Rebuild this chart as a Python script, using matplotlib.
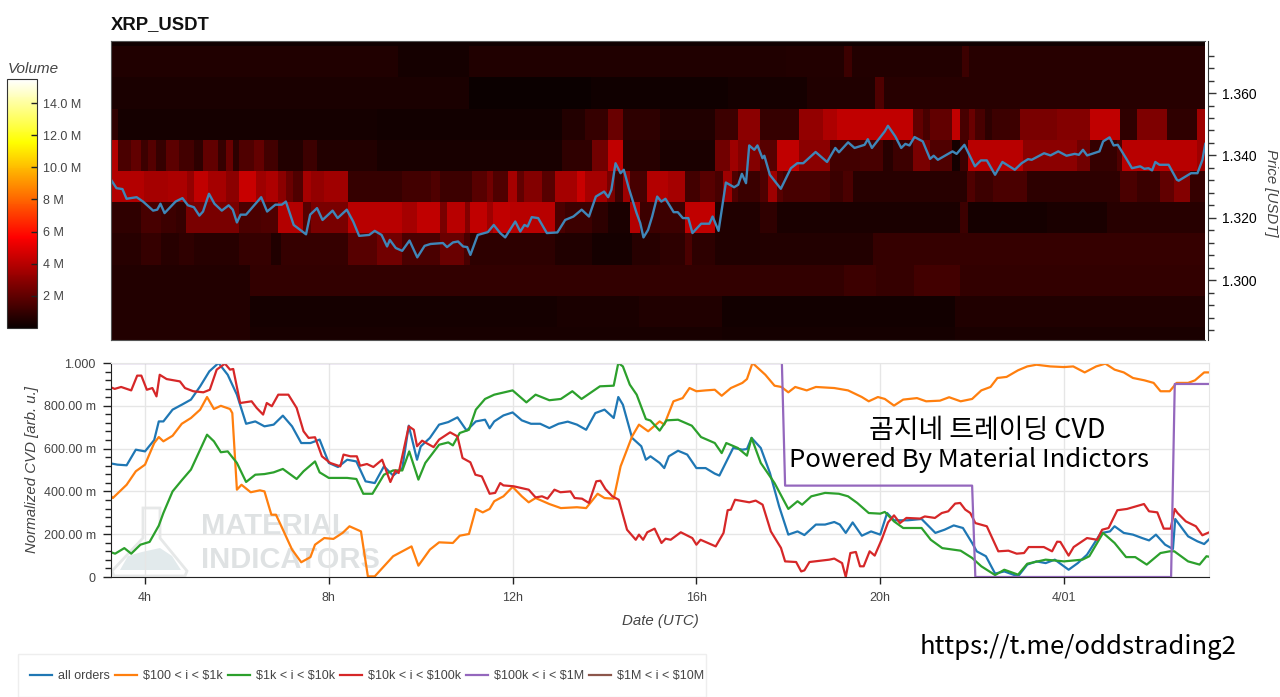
import numpy as np
import matplotlib
matplotlib.use("Agg")
import matplotlib.pyplot as plt
from matplotlib.lines import Line2D
from matplotlib.patches import Polygon, Rectangle

plt.rcParams["font.family"] = ["Liberation Sans", "DejaVu Sans"]

# volume in millions per 0.01 USDT price bin, (hour the level starts, volume)
row_1280 = [(3.26, 0.6), (6.29, 0.35), (16.6, 0.3), (21.7, 0.4)]
row_1290 = [(3.26, 0.6), (6.29, 0.3), (13.0, 0.4), (14.8, 0.5), (16.6, 0.2), (21.7, 0.5)]
row_1300 = [(3.26, 0.6), (6.29, 0.95), (19.27, 1.2), (19.96, 1.0), (20.8, 1.3), (21.8, 0.95)]
row_1310 = [(3.26, 0.7), (3.92, 1.0), (4.35, 0.7), (4.75, 0.9), (5.08, 0.7), (6.06, 1.0), (6.75, 0.5), (6.97, 1.0), (8.43, 1.8), (9.08, 2.4),
            (9.61, 1.5), (10.45, 2.2), (10.96, 1.4), (11.10, 0.8), (12.96, 0.5), (13.76, 0.3), (14.63, 0.7), (15.25, 0.8), (15.80, 1.5),
            (15.94, 0.8), (16.45, 0.5), (17.43, 0.6), (19.91, 1.0)]
row_1320 = [(3.26, 0.9), (3.92, 1.4), (4.35, 1.2), (4.68, 1.0), (4.90, 2.6), (6.06, 1.5), (6.54, 1.6), (6.90, 3.9), (7.45, 1.8), (7.63, 2.6),
            (8.43, 4.0), (9.61, 3.6), (9.94, 4.2), (10.45, 2.6), (10.59, 4.0), (10.99, 2.8), (11.10, 4.2), (11.47, 3.4), (11.61, 4.2), (11.98, 4.0),
            (12.96, 1.5), (13.18, 1.2), (13.76, 0.8), (14.12, 0.4), (14.60, 3.9), (14.82, 1.2), (15.80, 4.2), (16.45, 0.5), (17.43, 0.9), (17.80, 0.4),
            (21.81, 1.2), (21.97, 0.3), (23.70, 0.4), (25.01, 0.7)]
row_1330 = [(3.26, 3.9), (3.99, 3.6), (4.50, 3.7), (4.93, 3.2), (5.08, 4.2), (5.37, 3.6), (5.77, 3.0), (6.06, 4.4), (6.43, 3.4), (6.65, 3.8), (6.90, 3.0),
            (7.08, 2.2), (7.23, 1.6), (7.45, 3.6), (7.63, 3.2), (7.92, 3.5), (8.43, 1.0), (9.61, 1.3), (10.26, 1.6), (10.45, 1.2), (11.14, 1.8), (11.47, 2.4),
            (11.61, 1.6), (11.94, 3.6), (12.12, 2.0), (12.27, 2.8), (12.67, 1.8), (12.96, 3.6), (13.43, 4.4), (13.61, 3.6), (14.09, 2.6), (14.27, 1.2),
            (14.45, 3.4), (14.60, 1.4), (14.96, 3.9), (15.43, 3.6), (15.80, 1.3), (16.12, 1.8), (16.45, 1.4), (16.63, 3.4), (16.82, 1.6), (16.96, 1.1),
            (17.43, 1.6), (17.62, 3.4), (17.80, 1.8), (17.94, 1.4), (18.96, 1.1), (19.25, 1.5), (19.47, 0.7), (21.95, 1.6), (22.13, 1.2), (22.53, 1.5),
            (23.26, 0.8), (25.30, 1.5), (25.66, 1.1), (26.17, 2.0), (26.47, 2.8), (26.83, 1.0)]
row_1340 = [(3.26, 3.9), (3.42, 1.5), (3.70, 2.0), (3.92, 1.2), (4.06, 1.7), (4.24, 1.0), (4.46, 1.9), (4.75, 1.3), (5.08, 0.8), (5.26, 2.0), (5.59, 1.0),
            (5.77, 2.2), (5.92, 0.8), (6.06, 1.6), (6.39, 2.1), (6.61, 1.3), (6.90, 0.6), (7.45, 1.2), (7.77, 0.6), (9.08, 0.35), (13.10, 0.9), (13.76, 2.4),
            (14.12, 4.2), (14.45, 0.7), (15.25, 0.4), (16.45, 2.4), (16.78, 3.4), (16.96, 2.8), (17.43, 1.8), (17.80, 4.2), (18.29, 3.0), (18.96, 1.3),
            (19.62, 1.4), (20.13, 0.7), (20.35, 1.2), (20.78, 2.6), (21.15, 1.6), (21.62, 0.3), (21.81, 1.2), (21.97, 4.0), (23.19, 3.0), (24.35, 2.4),
            (24.65, 1.0), (25.23, 1.6), (25.34, 4.0), (26.97, 3.4)]
row_1350 = [(3.26, 0.9), (3.42, 0.3), (9.08, 0.2), (13.10, 0.6), (13.61, 1.0), (14.12, 2.2), (14.45, 0.8), (15.25, 0.5), (16.45, 1.2), (16.96, 3.0),
            (17.43, 1.0), (18.29, 3.2), (18.82, 3.8), (19.11, 4.2), (20.78, 2.0), (21.0, 1.4), (21.15, 2.0), (21.62, 4.2), (21.81, 1.4), (21.99, 2.2),
            (22.13, 1.4), (22.35, 0.8), (22.50, 1.2), (23.12, 2.6), (23.92, 2.8), (24.65, 4.2), (25.30, 0.9), (25.66, 2.7), (26.32, 0.9), (26.97, 3.4)]
row_1360 = [(3.26, 0.4), (11.09, 0.05), (13.75, 0.15), (16.73, 0.3), (18.47, 0.5), (19.94, 1.6), (20.14, 0.7)]
row_1370 = [(3.26, 0.5), (9.52, 0.3), (11.09, 0.5), (18.0, 0.6), (19.27, 1.2), (19.45, 0.6), (21.85, 1.2), (22.0, 0.7)]
row_1380 = [(3.26, 0.15)]

price = [(3.26, 1.3322), (3.38, 1.3295), (3.51, 1.3292), (3.60, 1.3261), (3.82, 1.3266), (3.96, 1.3252), (4.18, 1.3223), (4.27, 1.3226),
         (4.34, 1.3245), (4.43, 1.3215), (4.67, 1.3252), (4.82, 1.3263), (4.94, 1.3240), (5.07, 1.3234), (5.19, 1.3207), (5.27, 1.3220),
         (5.40, 1.3277), (5.52, 1.3245), (5.68, 1.3223), (5.83, 1.3240), (5.92, 1.3226), (6.01, 1.3185), (6.09, 1.3210), (6.21, 1.3210),
         (6.54, 1.3266), (6.67, 1.3220), (6.85, 1.3242), (6.99, 1.3242), (7.08, 1.3252), (7.25, 1.3177), (7.52, 1.3147), (7.61, 1.3210),
         (7.76, 1.3231), (7.88, 1.3193), (8.10, 1.3223), (8.21, 1.3199), (8.41, 1.3226), (8.55, 1.3188), (8.68, 1.3142), (8.90, 1.3145),
         (9.02, 1.3158), (9.17, 1.3145), (9.29, 1.3108), (9.35, 1.3129), (9.48, 1.3103), (9.62, 1.3094), (9.78, 1.3127), (9.95, 1.3073),
         (10.11, 1.3110), (10.24, 1.3116), (10.51, 1.3119), (10.60, 1.3106), (10.73, 1.3121), (10.84, 1.3124), (10.95, 1.3108), (11.04, 1.3106),
         (11.11, 1.3081), (11.27, 1.3145), (11.49, 1.3154), (11.62, 1.3177), (11.76, 1.3151), (11.87, 1.3137), (12.09, 1.3188), (12.20, 1.3156),
         (12.29, 1.3177), (12.36, 1.3172), (12.45, 1.3202), (12.59, 1.3199), (12.78, 1.3151), (13.01, 1.3153), (13.18, 1.3193), (13.36, 1.3204),
         (13.54, 1.3226), (13.70, 1.3204), (13.85, 1.3268), (14.03, 1.3284), (14.12, 1.3266), (14.19, 1.3290), (14.28, 1.3375), (14.39, 1.3343),
         (14.46, 1.3354), (14.57, 1.3295), (14.74, 1.3215), (14.82, 1.3183), (14.89, 1.3137), (14.99, 1.3161), (15.08, 1.3204), (15.19, 1.3268),
         (15.28, 1.3252), (15.37, 1.3261), (15.55, 1.3218), (15.64, 1.3218), (15.75, 1.3199), (15.87, 1.3199), (15.96, 1.3151), (16.15, 1.3181),
         (16.33, 1.3181), (16.40, 1.3204), (16.53, 1.3158), (16.69, 1.3313), (16.87, 1.3298), (16.96, 1.3306), (17.04, 1.3341), (17.13, 1.3311),
         (17.20, 1.3432), (17.31, 1.3418), (17.38, 1.3432), (17.49, 1.3391), (17.53, 1.3399), (17.65, 1.3338), (17.89, 1.3293), (18.11, 1.3359),
         (18.25, 1.3375), (18.38, 1.3375), (18.65, 1.3411), (18.90, 1.3379), (19.08, 1.3424), (19.16, 1.3410), (19.36, 1.3442), (19.50, 1.3424),
         (19.72, 1.3434), (19.79, 1.3452), (19.88, 1.3424), (20.16, 1.3477), (20.23, 1.3495), (20.39, 1.3461), (20.52, 1.3424), (20.61, 1.3437),
         (20.70, 1.3432), (20.81, 1.3459), (20.99, 1.3445), (21.15, 1.3389), (21.23, 1.3399), (21.32, 1.3386), (21.64, 1.3413), (21.73, 1.3405),
         (21.90, 1.3434), (22.13, 1.3365), (22.26, 1.3384), (22.39, 1.3384), (22.57, 1.3338), (22.73, 1.3379), (23.00, 1.3354), (23.15, 1.3375),
         (23.29, 1.3388), (23.37, 1.3386), (23.64, 1.3407), (23.78, 1.3400), (23.95, 1.3413), (24.13, 1.3399), (24.31, 1.3405), (24.40, 1.3402),
         (24.49, 1.3418), (24.58, 1.3400), (24.85, 1.3413), (24.93, 1.3445), (25.07, 1.3458), (25.16, 1.3432), (25.25, 1.3434), (25.43, 1.3391),
         (25.56, 1.3359), (25.74, 1.3365), (25.83, 1.3357), (25.92, 1.3359), (26.00, 1.3352), (26.07, 1.3379), (26.16, 1.3370), (26.36, 1.3370),
         (26.54, 1.3322), (26.58, 1.3319), (26.85, 1.3343), (26.99, 1.3343), (27.10, 1.3386), (27.16, 1.3437)]

# normalized CVD in milli units, (hour, value)
all_orders = [(3.2, 533), (3.4, 525), (3.6, 522), (3.8, 595), (4.0, 587), (4.2, 640), (4.3, 727), (4.4, 727), (4.6, 782), (4.8, 805), (5.0, 829),
              (5.2, 891), (5.4, 961), (5.6, 1000), (5.8, 945), (6.0, 852), (6.2, 716), (6.4, 727), (6.6, 704), (6.8, 712), (7.0, 754), (7.2, 704),
              (7.4, 626), (7.6, 626), (7.8, 642), (8.0, 533), (8.2, 514), (8.4, 548), (8.6, 540), (8.8, 447), (9.0, 439), (9.2, 517), (9.4, 474),
              (9.6, 509), (9.74, 707), (9.92, 548), (10.0, 610), (10.2, 650), (10.4, 712), (10.6, 724), (10.8, 746), (11.0, 684), (11.2, 727),
              (11.4, 735), (11.5, 695), (11.6, 727), (11.8, 755), (12.0, 769), (12.2, 732), (12.4, 716), (12.6, 716), (12.8, 696), (13.0, 716),
              (13.2, 726), (13.4, 712), (13.6, 688), (13.8, 766), (14.0, 782), (14.2, 743), (14.3, 841), (14.4, 805), (14.6, 650), (14.8, 611),
              (14.9, 548), (15.0, 564), (15.2, 533), (15.3, 509), (15.4, 564), (15.6, 590), (15.8, 572), (16.0, 509), (16.2, 509), (16.4, 483),
              (16.5, 474), (16.8, 603), (17.0, 595), (17.1, 598), (17.2, 650), (17.4, 603), (17.6, 486), (17.8, 330), (18.0, 198), (18.2, 213),
              (18.35, 196), (18.6, 245), (18.8, 245), (19.0, 257), (19.12, 245), (19.25, 206), (19.4, 255), (19.6, 193), (19.8, 213), (20.0, 198),
              (20.15, 299), (20.3, 265), (20.6, 265), (20.9, 271), (21.2, 206), (21.4, 221), (21.6, 241), (21.8, 229), (22.0, 159), (22.1, 120),
              (22.3, 97), (22.5, 16), (22.7, 26), (23.0, 3), (23.2, 58), (23.4, 73), (23.6, 65), (23.8, 81), (24.1, 34), (24.3, 65), (24.5, 104),
              (24.8, 205), (25.0, 213), (25.1, 237), (25.3, 206), (25.5, 198), (25.7, 182), (25.85, 171), (26.0, 198), (26.2, 151), (26.37, 131),
              (26.42, 271), (26.7, 190), (26.9, 167), (27.05, 154), (27.2, 185)]
band_100_1k = [(3.2, 392), (3.3, 369), (3.6, 431), (3.8, 494), (4.0, 525), (4.2, 626), (4.3, 654), (4.4, 634), (4.6, 660), (4.8, 716), (5.0, 743),
               (5.2, 782), (5.35, 841), (5.5, 785), (5.65, 800), (5.85, 785), (5.9, 766), (6.0, 408), (6.1, 431), (6.3, 396), (6.5, 405), (6.6, 400),
               (6.75, 291), (6.85, 291), (6.95, 245), (7.2, 128), (7.4, 69), (7.6, 93), (7.7, 151), (7.9, 182), (8.1, 178), (8.3, 206), (8.45, 237),
               (8.7, 213), (8.85, 3), (9.0, 3), (9.2, 50), (9.4, 97), (9.6, 120), (9.8, 143), (9.95, 53), (10.2, 128), (10.4, 162), (10.7, 159),
               (10.85, 193), (11.05, 201), (11.2, 318), (11.35, 302), (11.5, 318), (11.6, 354), (11.8, 377), (12.0, 421), (12.2, 377), (12.35, 349),
               (12.5, 369), (12.8, 341), (13.05, 322), (13.4, 326), (13.6, 322), (13.85, 389), (14.0, 369), (14.2, 366), (14.35, 517), (14.6, 657),
               (14.75, 712), (14.95, 681), (15.2, 727), (15.3, 712), (15.5, 821), (15.7, 836), (15.85, 883), (16.0, 868), (16.2, 872), (16.4, 875),
               (16.55, 847), (16.75, 883), (17.0, 907), (17.1, 925), (17.22, 1000), (17.5, 945), (17.7, 894), (17.85, 888), (18.0, 863), (18.15, 888),
               (18.4, 872), (18.6, 888), (19.0, 883), (19.3, 872), (19.6, 841), (19.75, 821), (19.95, 841), (20.1, 832), (20.3, 801), (20.5, 829),
               (20.8, 836), (21.0, 821), (21.3, 824), (21.5, 840), (21.75, 821), (22.0, 832), (22.2, 872), (22.4, 888), (22.55, 930), (22.75, 935),
               (23.0, 966), (23.2, 984), (23.4, 992), (23.7, 984), (24.0, 981), (24.2, 984), (24.45, 956), (24.7, 984), (24.9, 997), (25.1, 969),
               (25.3, 956), (25.5, 930), (25.75, 919), (25.95, 907), (26.1, 868), (26.3, 868), (26.45, 907), (26.7, 907), (26.85, 919), (27.05, 956),
               (27.2, 956)]
band_1k_10k = [(3.2, 120), (3.35, 109), (3.55, 135), (3.7, 109), (3.9, 151), (4.1, 164), (4.3, 240), (4.4, 299), (4.6, 400), (4.8, 452), (5.0, 502),
               (5.2, 595), (5.35, 665), (5.5, 634), (5.65, 583), (5.8, 587), (6.0, 533), (6.2, 444), (6.4, 478), (6.6, 481), (6.8, 489), (7.0, 505),
               (7.3, 458), (7.45, 494), (7.7, 540), (7.8, 489), (8.0, 463), (8.4, 463), (8.6, 458), (8.75, 389), (8.95, 389), (9.2, 478), (9.4, 498),
               (9.6, 498), (9.75, 587), (9.95, 455), (10.1, 533), (10.4, 618), (10.6, 629), (10.7, 615), (10.85, 673), (11.05, 688), (11.2, 782),
               (11.4, 832), (11.6, 852), (12.0, 872), (12.3, 816), (12.5, 852), (12.8, 826), (13.05, 832), (13.3, 868), (13.5, 832), (13.9, 891),
               (14.2, 894), (14.3, 1000), (14.4, 984), (14.55, 899), (14.7, 852), (14.9, 738), (15.0, 731), (15.2, 684), (15.35, 732), (15.6, 735),
               (15.9, 707), (16.1, 654), (16.4, 626), (16.55, 579), (16.65, 626), (16.9, 603), (17.1, 567), (17.2, 650), (17.4, 533), (17.7, 439),
               (18.0, 318), (18.2, 354), (18.3, 338), (18.5, 377), (18.8, 393), (19.1, 389), (19.3, 377), (19.5, 346), (19.75, 299), (20.0, 296),
               (20.1, 304), (20.3, 260), (20.5, 229), (20.9, 229), (21.1, 174), (21.35, 135), (21.75, 123), (22.0, 89), (22.2, 50), (22.5, 9),
               (22.7, 34), (23.0, 11), (23.2, 62), (23.6, 81), (24.0, 73), (24.4, 81), (24.55, 97), (24.85, 206), (25.1, 159), (25.35, 93),
               (25.55, 93), (25.8, 58), (26.1, 112), (26.3, 120), (26.4, 120), (26.7, 73), (26.95, 58), (27.1, 97), (27.2, 93)]
band_10k_100k = [(3.24, 888), (3.34, 879), (3.48, 888), (3.70, 872), (3.83, 941), (3.92, 941), (4.04, 875), (4.16, 883), (4.25, 844), (4.32, 945),
                 (4.47, 925), (4.76, 914), (4.87, 883), (5.05, 868), (5.27, 863), (5.41, 875), (5.56, 969), (5.74, 997), (5.85, 969), (5.92, 972),
                 (6.07, 813), (6.32, 821), (6.43, 790), (6.57, 759), (6.65, 813), (6.76, 798), (6.90, 852), (7.12, 852), (7.30, 790), (7.45, 681),
                 (7.56, 650), (7.70, 653), (7.85, 564), (8.03, 533), (8.25, 517), (8.32, 572), (8.47, 564), (8.61, 564), (8.68, 520), (8.83, 528),
                 (8.97, 514), (9.16, 548), (9.34, 444), (9.45, 498), (9.52, 486), (9.74, 704), (9.85, 688), (9.92, 611), (10.03, 637), (10.28, 607),
                 (10.4, 642), (10.64, 676), (10.8, 657), (10.91, 556), (11.08, 536), (11.19, 478), (11.33, 470), (11.5, 389), (11.62, 393), (11.73, 439),
                 (11.8, 428), (12.02, 424), (12.35, 408), (12.5, 372), (12.64, 377), (12.76, 366), (12.91, 408), (13.04, 396), (13.26, 400), (13.35, 369),
                 (13.51, 366), (13.66, 346), (13.82, 447), (13.91, 450), (14.02, 411), (14.17, 377), (14.31, 361), (14.49, 221), (14.68, 174), (14.75, 198),
                 (14.84, 174), (14.93, 209), (15.09, 226), (15.24, 159), (15.33, 179), (15.44, 174), (15.66, 209), (15.91, 182), (16.0, 151), (16.09, 174),
                 (16.42, 143), (16.59, 206), (16.68, 312), (16.75, 315), (16.84, 361), (17.15, 349), (17.29, 357), (17.44, 338), (17.62, 213), (17.84, 136),
                 (17.93, 73), (18.17, 70), (18.28, 26), (18.35, 31), (18.46, 70), (18.89, 81), (19.0, 86), (19.17, 65), (19.25, 0), (19.35, 112), (19.47, 117),
                 (19.56, 50), (19.64, 50), (19.77, 120), (19.88, 100), (20.03, 174), (20.17, 255), (20.3, 288), (20.43, 252), (20.57, 276), (20.87, 273),
                 (20.97, 283), (21.19, 276), (21.34, 299), (21.48, 307), (21.63, 343), (21.74, 346), (21.85, 315), (21.96, 299), (22.07, 252), (22.32, 237),
                 (22.57, 120), (22.79, 123), (22.97, 109), (23.13, 112), (23.23, 140), (23.56, 140), (23.74, 120), (23.85, 165), (23.92, 164), (24.1, 100),
                 (24.21, 140), (24.5, 182), (24.72, 174), (24.83, 221), (24.97, 229), (25.16, 312), (25.37, 318), (25.74, 341), (25.85, 307), (26.03, 302),
                 (26.17, 226), (26.32, 226), (26.41, 318), (26.47, 299), (26.65, 260), (26.87, 237), (27.01, 195), (27.16, 209)]
band_100k_1m = [(3.2, 1000), (17.86, 1000), (17.93, 427), (22.0, 427), (22.07, 0), (26.33, 0), (26.41, 902), (27.2, 902)]

series_labels = ["all orders", r"\$100 < i < \$1k", r"\$1k < i < \$10k", r"\$10k < i < \$100k", r"\$100k < i < \$1M", r"\$1M < i < \$10M"]
series_colors = ["#1f77b4", "#ff7f0e", "#2ca02c", "#d62728", "#9467bd", "#8c564b"]
hour_ticks = [4, 8, 12, 16, 20, 24]
hour_labels = ["4h", "8h", "12h", "16h", "20h", "4/01"]
cvd_ticks = [0, 200, 400, 600, 800, 1000]
cvd_labels = ["0", "200.00 m", "400.00 m", "600.00 m", "800.00 m", "1.000"]
vol_ticks = [2, 4, 6, 8, 10, 12, 14]
vol_labels = ["2 M", "4 M", "6 M", "8 M", "10.0 M", "12.0 M", "14.0 M"]

W, H = 1280, 697
x_min, x_max = 3.26, 27.155


def px_axes(left, top, right, bottom):
    return fig.add_axes([left / W, 1 - bottom / H, (right - left) / W, (bottom - top) / H])


def px_fig(x, y):
    return x / W, 1 - y / H


fig = plt.figure(figsize=(12.8, 6.97), dpi=100)

# heatmap with price line
ax1 = px_axes(111, 41, 1205, 340)
rows = [row_1280, row_1290, row_1300, row_1310, row_1320, row_1330, row_1340, row_1350, row_1360, row_1370, row_1380]
for i, row in enumerate(rows):
    starts, vols = np.array(row).T
    edges = np.append(starts, x_max)
    mesh = ax1.pcolormesh(edges, [1.275 + 0.01 * i, 1.285 + 0.01 * i], [vols], cmap="hot", vmin=0, vmax=15.5,
                          shading="flat", antialiased=False)
pt, pv = np.array(price).T
ax1.plot(pt, pv, color="#3f86b8", lw=1.7)
ax1.set_xlim(x_min, x_max)
ax1.set_ylim(1.2808, 1.3767)
ax1.set_xticks([])
ax1.yaxis.tick_right()
ax1.set_yticks([1.30, 1.32, 1.34, 1.36])
ax1.set_yticklabels(["1.300", "1.320", "1.340", "1.360"], fontsize=8.5, color="#444444")
ax1.set_yticks(np.arange(1.284, 1.376, 0.004), minor=True)
ax1.tick_params(axis="y", which="major", length=6, width=1, color="#333333", pad=4)
ax1.tick_params(axis="y", which="minor", length=4.5, width=1, color="#333333")
for side in ["left", "top", "bottom"]:
    ax1.spines[side].set_color("#555555")
ax1.spines["right"].set_position(("outward", 2.5))
ax1.spines["right"].set_color("#333333")
fig.text(*px_fig(111, 25), "XRP_USDT", fontsize=13.3, fontweight="bold", color="#111111", va="center")
fig.text(*px_fig(1271, 193), "Price [USDT]", rotation=-90, style="italic", fontsize=10.8, color="#444444", ha="center", va="center")

# colorbar
cax = px_axes(7, 79, 37, 328)
cb = fig.colorbar(mesh, cax=cax)
cb.set_ticks(vol_ticks)
cb.set_ticklabels(vol_labels)
cb.ax.tick_params(length=4, width=1, direction="in", color="#222222", labelsize=9, labelcolor="#444444", pad=4)
cb.outline.set_edgecolor("#333333")
fig.text(*px_fig(8, 69), "Volume", style="italic", fontsize=11, color="#444444", ha="left", va="center")

# CVD panel
ax2 = px_axes(111, 363, 1209, 577)
ax2.patch.set_alpha(0)
ax2.set_xlim(x_min, x_max)
ax2.set_ylim(0, 1000)
ax2.set_xticks(hour_ticks)
ax2.set_xticklabels(hour_labels, fontsize=9, color="#444444")
ax2.set_yticks(cvd_ticks)
ax2.set_yticklabels(cvd_labels, fontsize=9, color="#444444")
ax2.set_yticks(np.arange(0, 1001, 40), minor=True)
ax2.grid(True, which="major", color="#e6e6e6", lw=1)
ax2.set_axisbelow(True)
ax2.tick_params(axis="x", length=5, width=1, color="#222222", pad=6)
ax2.tick_params(axis="y", which="major", length=6, width=1, color="#222222", pad=5)
ax2.tick_params(axis="y", which="minor", length=4, width=1, color="#222222")
for side in ["top", "right"]:
    ax2.spines[side].set_color("#e6e6e6")
ax2.spines["left"].set_color("#222222")
ax2.spines["bottom"].set_color("#222222")
ax2.set_xlabel("Date (UTC)", style="italic", fontsize=10.8, color="#444444", labelpad=7)
ax2.set_ylabel("Normalized CVD [arb. u.]", style="italic", fontsize=10.8, color="#444444", labelpad=3)

# watermark sits behind the lines
flask = [px_fig(*p) for p in [(143, 508), (160, 508), (160, 538), (187, 571), (185, 576), (114, 576), (112, 571), (143, 538)]]
fig.add_artist(Polygon(flask, closed=True, transform=fig.transFigure, fill=False, edgecolor="#e6e8e8", lw=2, zorder=-1))
inner = [px_fig(*p) for p in [(120, 570), (128, 556), (142, 552), (160, 548), (172, 556), (181, 570)]]
fig.add_artist(Polygon(inner, closed=True, transform=fig.transFigure, facecolor="#e2eaec", edgecolor="none", zorder=-1))
fig.text(*px_fig(201, 526), "MATERIAL", fontsize=21, fontweight="bold", color="#dfe2e3", va="center", ha="left", zorder=-1)
fig.text(*px_fig(201, 560), "INDICATORS", fontsize=21, fontweight="bold", color="#dfe2e3", va="center", ha="left", zorder=-1)

for data, color, label in zip([all_orders, band_100_1k, band_1k_10k, band_10k_100k, band_100k_1m], series_colors, series_labels):
    t, v = np.array(data).T
    ax2.plot(t, v, color=color, lw=1.6, label=label)

# legend, the last band has no visible line
fig.add_artist(Rectangle(px_fig(18, 697), 688 / W, 43 / H, transform=fig.transFigure, facecolor="white", edgecolor="#eeeeee", lw=1, zorder=-1))
handles = [Line2D([], [], color=c, lw=1.6) for c in series_colors]
fig.legend(handles, series_labels, ncol=6, loc="center left", bbox_to_anchor=px_fig(30, 676), fontsize=9,
           frameon=False, handlelength=1.76, handletextpad=0.5, columnspacing=0.38, borderpad=0, borderaxespad=0,
           labelcolor="#444444")

# overlaid captions
kr = ["Noto Sans CJK KR", "DejaVu Sans"]
fig.text(*px_fig(987, 430), "곰지네 트레이딩 CVD", family=kr, fontsize=19.4, color="black", ha="center", va="center")
fig.text(*px_fig(969, 460), "Powered By Material Indictors", family=kr, fontsize=18.5, color="black", ha="center", va="center")
fig.text(*px_fig(1078, 647), "https://t.me/oddstrading2", family=kr, fontsize=18.5, color="black", ha="center", va="center")

fig.savefig("out.png", dpi=100)
